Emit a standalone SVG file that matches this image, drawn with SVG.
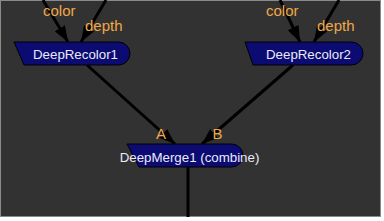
<svg xmlns="http://www.w3.org/2000/svg" width="384" height="221" viewBox="0 0 384 221">
<style>
.edge{stroke:#000;stroke-width:3;fill:none}
.node{fill:#0b0b72;stroke:#000;stroke-width:1}
.ntext{font-family:"Liberation Sans",Arial,sans-serif;font-size:13.3px;fill:#eaeaf8;text-anchor:middle}
.lbl{font-family:"Liberation Sans",Arial,sans-serif;font-size:15px;fill:#f0a848}
</style>
<defs>
<marker id="arr" markerUnits="userSpaceOnUse" markerWidth="16" markerHeight="12" viewBox="0 0 16 12" refX="16" refY="6" orient="auto">
<path d="M0,0 L16,6 L0,12 Z" fill="#000"/>
</marker>
</defs>
<rect x="0" y="0" width="384" height="221" fill="#ffffff"/>
<rect x="0.5" y="0.5" width="380" height="216" fill="#323232" stroke="#8a8a8a" stroke-width="1"/>
<g id="connectors">
<line class="edge" x1="43" y1="0" x2="68" y2="42" marker-end="url(#arr)"/>
<line class="edge" x1="106" y1="0" x2="81" y2="42" marker-end="url(#arr)"/>
<line class="edge" x1="280" y1="0" x2="300" y2="42" marker-end="url(#arr)"/>
<line class="edge" x1="339" y1="0" x2="314" y2="42" marker-end="url(#arr)"/>
<line class="edge" x1="87" y1="65" x2="175" y2="144" marker-end="url(#arr)"/>
<line class="edge" x1="293" y1="65" x2="202" y2="144" marker-end="url(#arr)"/>
<line class="edge" x1="188" y1="167" x2="188" y2="217"/>
</g>
<g id="labels">
<text class="lbl" x="43" y="16">color</text>
<text class="lbl" x="85" y="31">depth</text>
<text class="lbl" x="266" y="16">color</text>
<text class="lbl" x="317" y="31">depth</text>
<text class="lbl" x="156" y="139">A</text>
<text class="lbl" x="212.5" y="139">B</text>
</g>
<g id="DeepRecolor1">
<path class="node" d="M14,42 H118.5 A11.5,11.5 0 0 1 118.5,65 H24 Z"/>
<text class="ntext" x="75.5" y="58.5">DeepRecolor1</text>
</g>
<g id="DeepRecolor2">
<path class="node" d="M245,42 H351.5 A11.5,11.5 0 0 1 351.5,65 H253 Z"/>
<text class="ntext" x="308.5" y="58.5">DeepRecolor2</text>
</g>
<g id="DeepMerge1">
<path class="node" d="M127,144 H231.5 A11.5,11.5 0 0 1 231.5,167 H139 Z"/>
<text class="ntext" x="189.5" y="161.5">DeepMerge1 (combine)</text>
</g>
</svg>
